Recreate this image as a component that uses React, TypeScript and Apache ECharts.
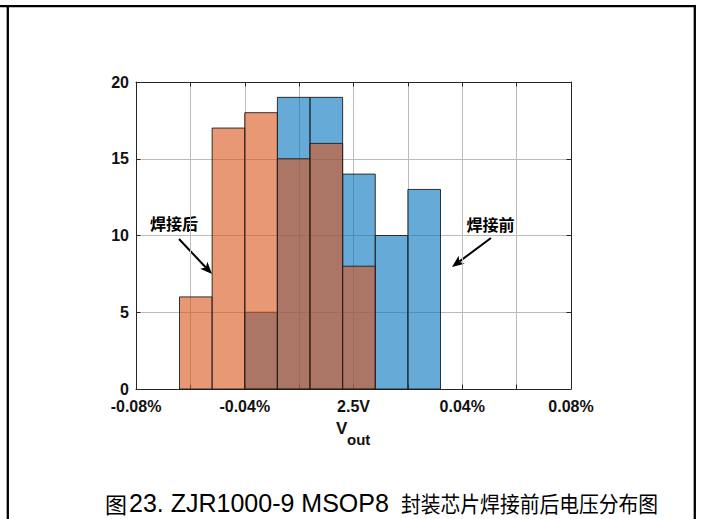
import React, { useEffect, useRef } from 'react';
import * as echarts from 'echarts';

// Histogram bins (deviation of Vout from 2.5 V, in %)
const binEdges = [-0.064, -0.052, -0.04, -0.028, -0.016, -0.004, 0.008, 0.02, 0.032];
// Counts per bin before soldering (焊接前)
const countsBefore = [0, 0, 5, 19, 19, 14, 10, 13];
// Counts per bin after soldering (焊接后)
const countsAfter = [6, 17, 18, 15, 16, 8, 0, 0];

// Labelled x ticks
const xTickValues = [-0.08, -0.04, 0, 0.04, 0.08];
const xTickLabels = ['-0.08%', '-0.04%', '2.5V', '0.04%', '0.08%'];

const captionFigure = '图';
const captionLatin = '23. ZJR1000-9 MSOP8';
const captionCjk = '封装芯片焊接前后电压分布图';

const LATIN = '"Liberation Sans", Arial, Helvetica, sans-serif';
const CJK = '"Noto Sans CJK SC", "Noto Sans", sans-serif';

function toBins(counts: number[]) {
  const rows: number[][] = [];
  counts.forEach((c, i) => {
    if (c > 0) rows.push([binEdges[i], binEdges[i + 1], c]);
  });
  return rows;
}

function histSeries(name: string, counts: number[], fill: string) {
  return {
    name,
    type: 'custom',
    xAxisIndex: 0,
    yAxisIndex: 0,
    data: toBins(counts),
    encode: { x: [0, 1], y: 2 },
    renderItem: (_params: any, api: any) => {
      const p0 = api.coord([api.value(0), api.value(2)]);
      const p1 = api.coord([api.value(1), 0]);
      return {
        type: 'rect',
        shape: { x: p0[0], y: p0[1], width: p1[0] - p0[0], height: p1[1] - p0[1] },
        style: { fill, stroke: '#1e1e1e', lineWidth: 0.9 },
      };
    },
  };
}

function arrow(from: number[], to: number[]) {
  const dx = to[0] - from[0];
  const dy = to[1] - from[1];
  const len = Math.hypot(dx, dy);
  const ux = dx / len;
  const uy = dy / len;
  const nx = -uy;
  const ny = ux;
  const L = 12;
  const W = 5;
  const notch = 3;
  const bx = to[0] - ux * L;
  const by = to[1] - uy * L;
  const mx = to[0] - ux * (L - notch);
  const my = to[1] - uy * (L - notch);
  return [
    {
      type: 'line',
      shape: { x1: from[0], y1: from[1], x2: mx, y2: my },
      style: { stroke: '#000', lineWidth: 2 },
    },
    {
      type: 'polygon',
      shape: {
        points: [
          [to[0], to[1]],
          [bx + nx * W, by + ny * W],
          [mx, my],
          [bx - nx * W, by - ny * W],
        ],
      },
      style: { fill: '#000' },
    },
  ];
}

export default function App() {
  const ref = useRef<HTMLDivElement>(null);

  useEffect(() => {
    if (!ref.current) return;
    const chart = echarts.init(ref.current, undefined, { renderer: 'svg' });

    const axisColor = '#262626';
    const labelStyle = {
      color: '#111',
      fontSize: 16,
      fontWeight: 'bold' as const,
      fontFamily: LATIN,
    };

    const xFormatter = (v: number) => {
      const i = xTickValues.findIndex((t) => Math.abs(t - v) < 1e-9);
      return i >= 0 ? xTickLabels[i] : '';
    };

    const frame = { stroke: '#000', lineWidth: 2.3 };

    chart.setOption({
      animation: false,
      backgroundColor: '#fff',
      grid: { left: 136, top: 82, width: 435, height: 307 },
      xAxis: [
        {
          type: 'value',
          min: -0.08,
          max: 0.08,
          interval: 0.02,
          position: 'bottom',
          axisLine: { show: true, onZero: false, lineStyle: { color: axisColor, width: 1 } },
          axisTick: { show: true, inside: true, length: 4.5, lineStyle: { color: axisColor } },
          axisLabel: { ...labelStyle, margin: 9, formatter: xFormatter, showMinLabel: true, showMaxLabel: true },
          splitLine: { show: true, lineStyle: { color: '#bcbcbc', width: 1 } },
        },
        {
          type: 'value',
          min: -0.08,
          max: 0.08,
          interval: 0.02,
          position: 'top',
          axisLine: { show: true, onZero: false, lineStyle: { color: axisColor, width: 1 } },
          axisTick: { show: true, inside: true, length: 4.5, lineStyle: { color: axisColor } },
          axisLabel: { show: false },
          splitLine: { show: false },
        },
      ],
      yAxis: [
        {
          type: 'value',
          min: 0,
          max: 20,
          interval: 5,
          position: 'left',
          axisLine: { show: true, onZero: false, lineStyle: { color: axisColor, width: 1 } },
          axisTick: { show: true, inside: true, length: 4.5, lineStyle: { color: axisColor } },
          axisLabel: { ...labelStyle, margin: 7 },
          splitLine: { show: true, lineStyle: { color: '#bcbcbc', width: 1 } },
        },
        {
          type: 'value',
          min: 0,
          max: 20,
          interval: 5,
          position: 'right',
          axisLine: { show: true, onZero: false, lineStyle: { color: axisColor, width: 1 } },
          axisTick: { show: true, inside: true, length: 4.5, lineStyle: { color: axisColor } },
          axisLabel: { show: false },
          splitLine: { show: false },
        },
      ],
      series: [
        histSeries('焊接前', countsBefore, 'rgba(0,114,189,0.6)'),
        histSeries('焊接后', countsAfter, 'rgba(217,83,25,0.6)'),
      ],
      graphic: [
        // page frame
        { type: 'line', shape: { x1: 0, y1: 6.2, x2: 696, y2: 6.2 }, style: frame },
        { type: 'line', shape: { x1: 7.8, y1: 5, x2: 7.8, y2: 519 }, style: frame },
        { type: 'line', shape: { x1: 694.8, y1: 5, x2: 694.8, y2: 519 }, style: frame },
        // axis title V_out
        {
          type: 'text',
          x: 336,
          y: 428,
          style: { text: 'V', fontFamily: LATIN, fontWeight: 'bold', fontSize: 17, fill: '#111', align: 'left', verticalAlign: 'middle' },
        },
        {
          type: 'text',
          x: 347,
          y: 439,
          style: { text: 'out', fontFamily: LATIN, fontWeight: 'bold', fontSize: 15, fill: '#111', align: 'left', verticalAlign: 'middle' },
        },
        // annotations
        {
          type: 'text',
          x: 174,
          y: 223,
          style: { text: '焊接后', fontFamily: CJK, fontWeight: 'bold', fontSize: 16, fill: '#000', align: 'center', verticalAlign: 'middle' },
        },
        ...arrow([179, 239], [212, 274]),
        {
          type: 'text',
          x: 490.5,
          y: 223.5,
          style: { text: '焊接前', fontFamily: CJK, fontWeight: 'bold', fontSize: 16, fill: '#000', align: 'center', verticalAlign: 'middle' },
        },
        ...arrow([491, 238], [452, 267]),
        // caption
        {
          type: 'text',
          x: 105,
          y: 503,
          style: { text: captionFigure, fontFamily: CJK, fontSize: 22, fill: '#000', align: 'left', verticalAlign: 'middle' },
        },
        {
          type: 'text',
          x: 129,
          y: 503,
          style: { text: captionLatin, fontFamily: LATIN, fontSize: 25, fill: '#000', align: 'left', verticalAlign: 'middle' },
        },
        {
          type: 'text',
          x: 401,
          y: 503,
          scaleX: 0.9,
          style: { text: captionCjk, fontFamily: CJK, fontSize: 22, fill: '#000', align: 'left', verticalAlign: 'middle' },
        },
      ],
    });

    return () => chart.dispose();
  }, []);

  return (
    <div
      ref={ref}
      style={{ position: 'fixed', left: 0, top: 0, width: 701, height: 519, background: '#fff' }}
    />
  );
}
